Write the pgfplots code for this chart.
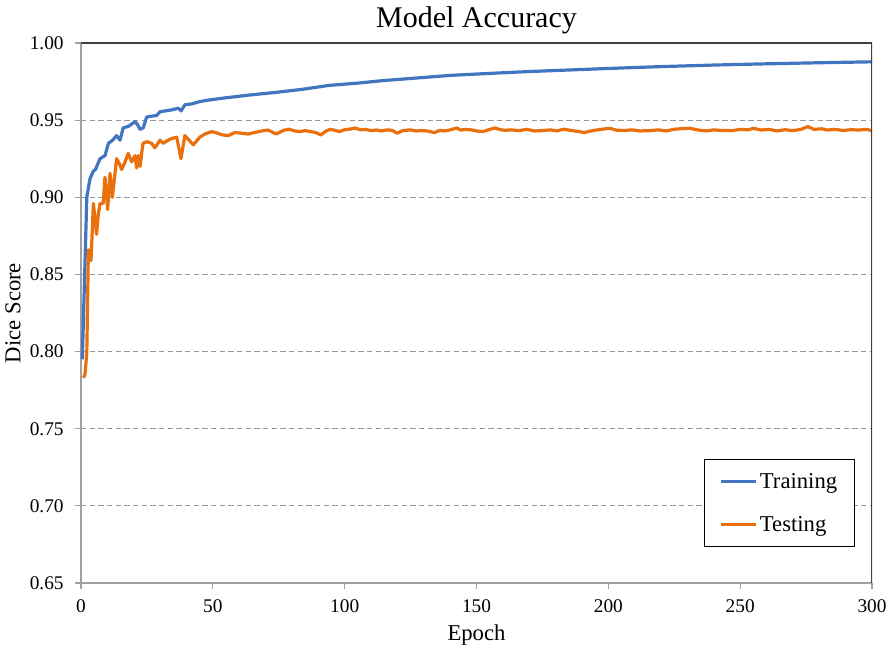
\documentclass[border=0pt]{standalone}
\usepackage{pgfplots}
\pgfplotsset{compat=1.18}
\usepackage{fontspec}
\setmainfont{Liberation Serif}
\definecolor{trainblue}{RGB}{66,117,192}
\definecolor{testorange}{RGB}{234,112,14}
\definecolor{axgray}{RGB}{160,160,160}
\definecolor{gridgray}{RGB}{150,150,150}
\begin{document}
\begin{tikzpicture}
\useasboundingbox (0,0) rectangle (667.5pt,489.75pt);
\begin{axis}[
  at={(60.75pt,52.5pt)}, anchor=south west,
  scale only axis, width=593.25pt, height=405pt,
  xmin=0, xmax=300, ymin=0.65, ymax=1.00,
  xtick={0,50,100,150,200,250,300},
  ytick={0.65,0.70,0.75,0.80,0.85,0.90,0.95,1.00},
  yticklabel style={xshift=-5pt, /pgf/number format/.cd, fixed, fixed zerofill, precision=2},
  /pgf/number format/assume math mode=true,
  ticklabel style={font=\fontsize{14.5}{16}\selectfont},
  xticklabel style={yshift=-4.5pt},
  axis x line*=bottom, axis y line*=left,
  axis line style={axgray, line width=0.9pt, -},
  tick style={axgray, line width=0.9pt},
  tick align=outside, major tick length=4.5pt,
  ymajorgrids, grid style={gridgray, line width=0.75pt, dash pattern=on 4pt off 2.5pt},
  title={Model Accuracy},
  title style={font=\fontsize{22.5}{26}\selectfont, yshift=-2.5pt},
  xlabel={Epoch}, ylabel={Dice Score},
  label style={font=\fontsize{17}{20}\selectfont},
  xlabel style={yshift=-2.5pt},
  legend style={at={(0.9785,0.0667)}, anchor=south east, draw=black, line width=0.75pt,
    font=\fontsize{17}{20}\selectfont, inner xsep=11pt, inner ysep=8pt, row sep=15.5pt},
  legend cell align=left,
  legend image code/.code={\draw[#1, line width=2.4pt] (0pt,0pt) -- (26pt,0pt);},
]
\addplot[trainblue, line width=2.4pt, line join=round] coordinates {
(0.5,0.795) (2.2,0.900) (3.4,0.912) (4.7,0.917) (5.5,0.918) (7.2,0.925) (9.1,0.927)
(10.4,0.935) (12,0.937) (13.5,0.940) (14.8,0.937) (16,0.945) (18,0.946) (20.5,0.949)
(21.5,0.947) (22.4,0.944) (23.6,0.945) (24.9,0.952) (26.5,0.9525) (28.7,0.953)
(30,0.9555) (32,0.956) (34,0.9565) (36.9,0.9577) (38,0.956) (39.4,0.960) (42,0.9605)
(45,0.962) (48.3,0.963) (55,0.9645) (64,0.9663) (74,0.968) (84,0.970) (94,0.9725)
(105,0.974) (115,0.9757) (125,0.977) (140,0.979) (155,0.9803) (170,0.9815)
(185,0.9825) (200,0.9835) (220,0.9847) (240,0.9857) (257,0.9864) (280,0.9872) (300,0.9878)
};
\addlegendentry{Training}
\addplot[testorange, line width=2.4pt, line join=round] coordinates {
(0.9,0.783) (1.5,0.785) (2.2,0.799) (2.8,0.866) (3.8,0.859) (4.7,0.896) (5.9,0.876)
(6.5,0.888) (7.2,0.896) (8.4,0.896) (9.1,0.913) (10.1,0.892) (11,0.9155) (11.9,0.900)
(13.5,0.925) (14.5,0.922) (15.4,0.918) (16.5,0.922) (17.9,0.9285) (19.2,0.923)
(20.5,0.927) (21.1,0.919) (21.7,0.927) (22.4,0.920) (23.5,0.935) (25,0.936)
(26.8,0.935) (28,0.932) (30,0.937) (31.2,0.935) (33,0.937) (34.3,0.938) (36.3,0.939)
(37.9,0.925) (39.4,0.940) (41,0.937) (42.6,0.934) (45.1,0.939) (47,0.941) (49.5,0.9425)
(51,0.9420) (53.4,0.9405) (55.9,0.940) (58.4,0.942) (61,0.9415) (63.4,0.941)
(65.9,0.942) (68,0.9428) (71,0.9436) (74,0.9410) (77,0.9435) (79,0.9441) (81,0.9430)
(83,0.9426) (85,0.9432) (87,0.9426) (89,0.9420) (91,0.9404) (93,0.9430) (94.5,0.9440)
(96,0.9435) (98,0.9426) (100,0.9438) (102,0.9442) (104,0.9449) (106,0.9437)
(108,0.9440) (110,0.9432) (112,0.9436) (114,0.9430) (116,0.9437) (118,0.9434)
(120,0.9415) (122,0.9432) (124.8,0.9437) (127,0.9430) (130,0.9432) (132,0.9428)
(134,0.9419) (136,0.9433) (138,0.9430) (140,0.9437) (142.5,0.9449) (144,0.9436)
(146,0.9440) (148,0.9437) (150,0.9430) (152.5,0.9426) (155,0.9440) (157,0.9449)
(159,0.9438) (161,0.9434) (163,0.9437) (166,0.9432) (169,0.9440) (172,0.9430)
(175,0.9432) (178,0.9437) (180.5,0.9430) (183,0.9441) (186,0.9433) (189,0.9425)
(191,0.9420) (194,0.9432) (197,0.9440) (200.6,0.9447) (203,0.9435) (206,0.9433)
(209,0.9437) (212,0.9430) (215.8,0.9432) (219,0.9437) (222,0.9430) (225,0.9441)
(228,0.9445) (231,0.9447) (234,0.9436) (237,0.9430) (240,0.9437) (243,0.9433)
(247,0.9432) (250,0.9440) (253,0.9437) (255,0.9447) (258,0.9436) (261,0.9440)
(264,0.9430) (267,0.9438) (270,0.9432) (273,0.9440) (275.7,0.9458) (278,0.9440)
(281,0.9444) (283,0.9436) (286,0.9440) (289,0.9433) (292,0.9438) (295,0.9436)
(298,0.9440) (300,0.9432)
};
\addlegendentry{Testing}
\draw[black!75, line width=0.9pt] (rel axis cs:0,1) -- (rel axis cs:1,1) -- (rel axis cs:1,0);
\end{axis}
\end{tikzpicture}
\end{document}
